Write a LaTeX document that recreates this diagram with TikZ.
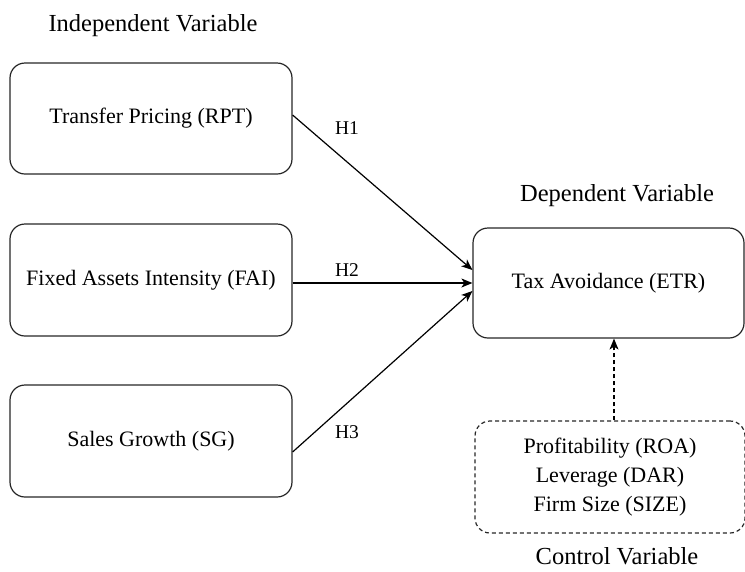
\documentclass[tikz,border=0pt]{standalone}
\usepackage{fontspec}
\setmainfont{Liberation Serif}
\usetikzlibrary{arrows.meta,calc}
\begin{document}
\begin{tikzpicture}[x=1pt,y=-1pt,
  box/.style={draw=black!85, line width=1.2pt, rounded corners=15pt, align=center,
    font=\fontsize{22}{29}\selectfont, inner sep=0pt},
  dbox/.style={box, dash pattern=on 4pt off 3pt},
  head/.style={font=\fontsize{24.5}{28}\selectfont, inner sep=0pt},
  hlab/.style={font=\fontsize{19.5}{22}\selectfont, inner sep=0pt},
  arr/.style={line width=1.2pt, -{Stealth[length=11pt,width=9pt,inset=3pt]}},
  darr/.style={arr, dash pattern=on 4pt off 3pt}]
\useasboundingbox (0,0) rectangle (745,571);
\node[head] (hind) at (153,26) {Independent Variable};
\node[box, minimum width=282pt, minimum height=111pt] (b1) at (151,118.5) {Transfer Pricing (RPT)};
\node[box, minimum width=282pt, minimum height=112pt] (b2) at (151,280) {Fixed Assets Intensity (FAI)};
\node[box, minimum width=282pt, minimum height=112pt] (b3) at (151,441) {Sales Growth (SG)};
\node[head] (hdep) at (617,196) {Dependent Variable};
\node[box, minimum width=271pt, minimum height=110pt] (tgt) at (608.5,283) {Tax Avoidance (ETR)};
\node[dbox, minimum width=270pt, minimum height=112pt] (ctl) at (610,477) {Profitability (ROA)\\Leverage (DAR)\\Firm Size (SIZE)};
\node[head] (hctl) at (617,556) {Control Variable};
\draw[arr] ([yshift=3.5pt]b1.east) -- ([yshift=13pt]tgt.west);
\draw[arr] ([yshift=-3pt]b2.east) -- (tgt.west);
\draw[arr] ([yshift=-11pt]b3.east) -- ([yshift=-8pt]tgt.west);
\draw[darr] ([xshift=4pt]ctl.north) -- ([xshift=4pt]ctl.north |- tgt.south);
\node[hlab] (l1) at (347,128) {H1};
\node[hlab] (l2) at (347,270) {H2};
\node[hlab] (l3) at (347,432) {H3};
\end{tikzpicture}
\end{document}
